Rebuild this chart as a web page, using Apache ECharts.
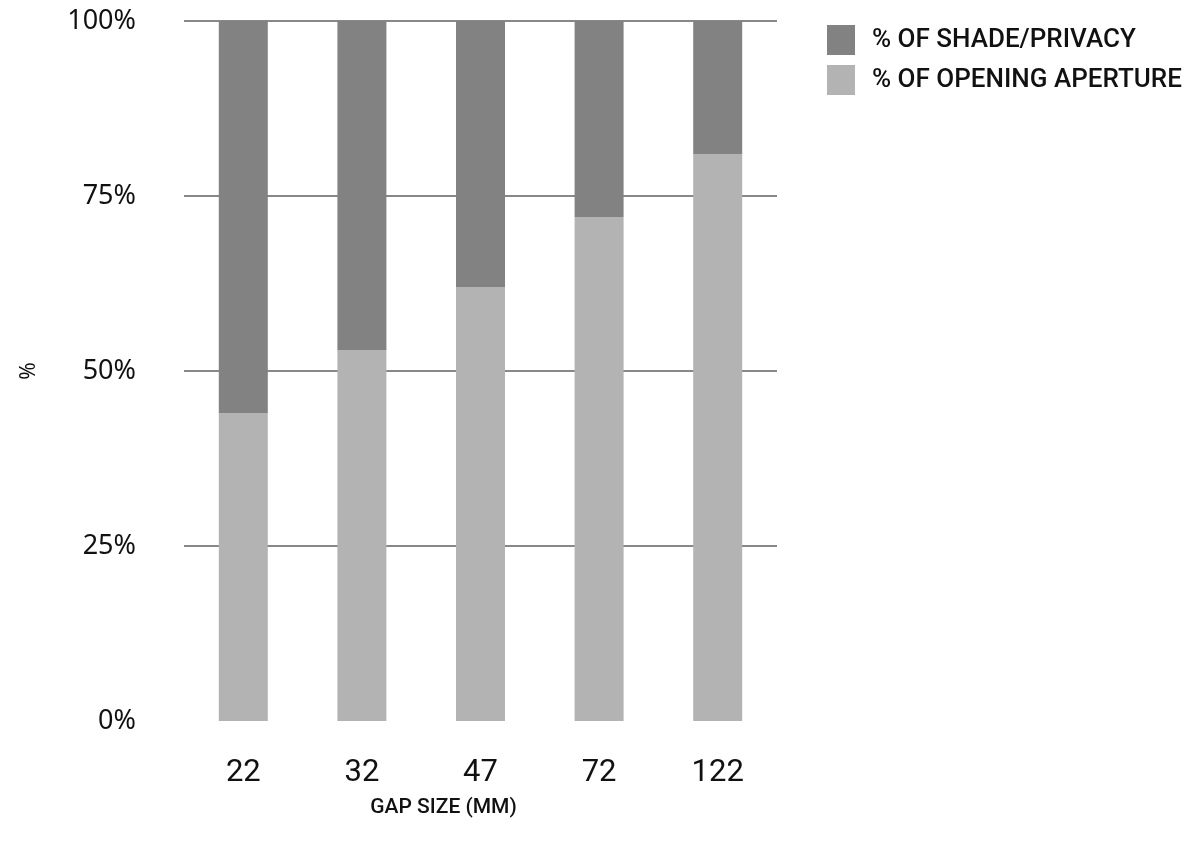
<!DOCTYPE html>
<html>
<head>
<meta charset="utf-8">
<script src="https://cdn.jsdelivr.net/npm/echarts@6/dist/echarts.min.js"></script>
<style>
html,body{margin:0;padding:0;background:#fff;}
#chart{width:1191px;height:847px;}
</style>
</head>
<body>
<div id="chart"></div>
<script>
const categories = ['22', '32', '47', '72', '122'];
const openingAperture = [44, 53, 62, 72, 81];
const shadePrivacy = [56, 47, 38, 28, 19];
const yTicks = [0, 25, 50, 75, 100];

const chart = echarts.init(document.getElementById('chart'));
chart.setOption({
  backgroundColor: '#ffffff',
  animation: false,
  grid: { left: 184, right: 414, top: 21, bottom: 126 },
  legend: {
    data: ['% OF SHADE/PRIVACY', '% OF OPENING APERTURE'],
    orient: 'vertical',
    left: 822,
    top: 20,
    itemWidth: 28,
    itemHeight: 30,
    itemGap: 10,
    icon: 'rect',
    textStyle: { fontFamily: 'Roboto', fontWeight: 500, fontSize: 26, lineHeight: 30, color: '#111', padding: [0, 0, 0, 12] }
  },
  xAxis: {
    type: 'category',
    data: categories,
    axisLine: { show: false },
    axisTick: { show: false },
    axisLabel: { fontFamily: 'Roboto', fontSize: 31, color: '#111', margin: 37 },
    name: 'GAP SIZE (MM)',
    nameLocation: 'middle',
    nameGap: 76,
    nameTextStyle: { fontFamily: 'Roboto', fontWeight: 500, fontSize: 21, color: '#111', padding: [0, 74, 0, 0] }
  },
  yAxis: {
    type: 'value',
    min: 0,
    max: 100,
    interval: 25,
    axisLine: { show: false },
    axisTick: { show: false },
    splitLine: { show: true, lineStyle: { color: ['rgba(0,0,0,0)', '#888888', '#888888', '#888888', '#888888'], width: 2 } },
    axisLabel: {
      fontFamily: 'Noto Sans', fontSize: 27, color: '#111', margin: 48,
      formatter: function (v) { return yTicks.indexOf(v) >= 0 ? v + '%' : ''; }
    },
    name: '%',
    nameLocation: 'middle',
    nameGap: 144,
    nameRotate: 90,
    nameTextStyle: { fontFamily: 'Noto Sans', fontSize: 21, color: '#111' }
  },
  series: [
    {
      name: '% OF OPENING APERTURE',
      type: 'bar',
      stack: 'total',
      data: openingAperture,
      barWidth: 49,
      itemStyle: { color: '#b3b3b3' }
    },
    {
      name: '% OF SHADE/PRIVACY',
      type: 'bar',
      stack: 'total',
      data: shadePrivacy,
      barWidth: 49,
      itemStyle: { color: '#828282' }
    }
  ]
});
</script>
</body>
</html>
